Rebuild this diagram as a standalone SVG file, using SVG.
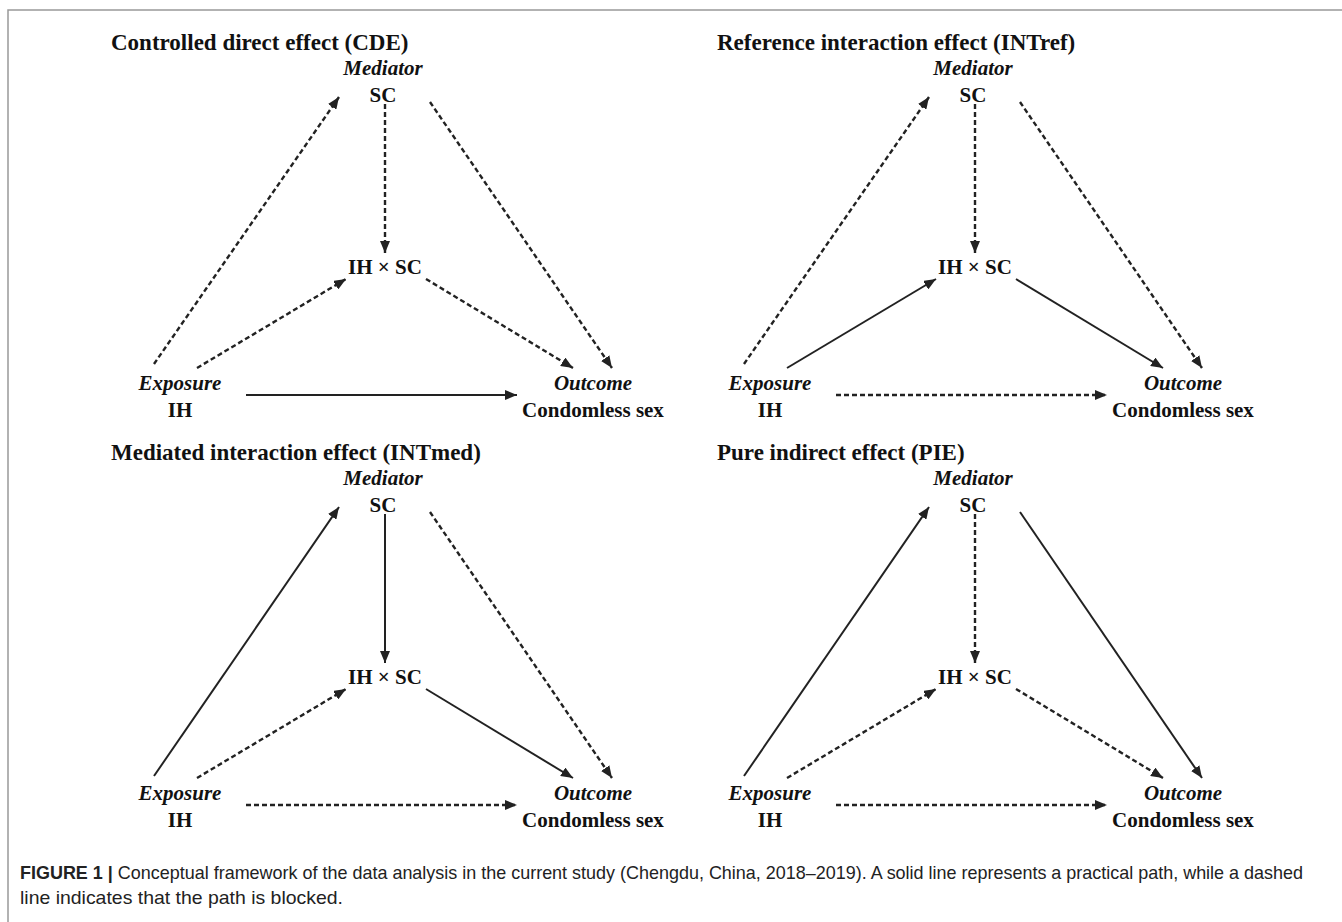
<svg xmlns="http://www.w3.org/2000/svg" width="1342" height="922" viewBox="0 0 1342 922">
<style>
.title{font-family:"Liberation Serif","Times New Roman",serif;font-weight:bold;font-size:23px;fill:#111}
.role{font-family:"Liberation Serif","Times New Roman",serif;font-weight:bold;font-style:italic;font-size:21px;fill:#111;text-anchor:middle}
.var{font-family:"Liberation Serif","Times New Roman",serif;font-weight:bold;font-size:21px;fill:#111;text-anchor:middle}
.solid{stroke:#222;stroke-width:2;fill:none;marker-end:url(#ah)}
.dash{stroke:#222;stroke-width:2.4;fill:none;stroke-dasharray:5 3;marker-end:url(#ah)}
.cap{font-family:"Liberation Sans",Arial,sans-serif;font-size:18.5px;fill:#222}
.frame{stroke:#999;stroke-width:1.5;fill:none}
</style>
<defs>
<marker id="ah" markerUnits="userSpaceOnUse" markerWidth="13" markerHeight="10" refX="12" refY="5" orient="auto">
<path d="M0,0 L12,5 L0,10 Z" fill="#222"/>
</marker>
</defs>
<rect width="1342" height="922" fill="#fff"/>
<path class="frame" d="M8,922 V10 H1342"/>

<g id="connectors">
<g id="c-cde">
<line class="dash" x1="154" y1="364" x2="339" y2="97"/>
<line class="dash" x1="385" y1="104" x2="385" y2="253"/>
<line class="dash" x1="197" y1="368" x2="346" y2="279"/>
<line class="dash" x1="426" y1="279" x2="573" y2="368"/>
<line class="dash" x1="430" y1="102" x2="612" y2="368"/>
<line class="solid" x1="246" y1="395" x2="517" y2="395"/>
</g>
<g id="c-intref" transform="translate(590,0)">
<line class="dash" x1="154" y1="364" x2="339" y2="97"/>
<line class="dash" x1="385" y1="104" x2="385" y2="253"/>
<line class="solid" x1="197" y1="368" x2="346" y2="279"/>
<line class="solid" x1="426" y1="279" x2="573" y2="368"/>
<line class="dash" x1="430" y1="102" x2="612" y2="368"/>
<line class="dash" x1="246" y1="395" x2="517" y2="395"/>
</g>
<g id="c-intmed" transform="translate(0,410)">
<line class="solid" x1="154" y1="366" x2="339" y2="97"/>
<line class="solid" x1="385" y1="104" x2="385" y2="253"/>
<line class="dash" x1="197" y1="368" x2="346" y2="279"/>
<line class="solid" x1="426" y1="279" x2="573" y2="368"/>
<line class="dash" x1="430" y1="102" x2="612" y2="368"/>
<line class="dash" x1="246" y1="395" x2="517" y2="395"/>
</g>
<g id="c-pie" transform="translate(590,410)">
<line class="solid" x1="154" y1="366" x2="339" y2="97"/>
<line class="dash" x1="385" y1="104" x2="385" y2="253"/>
<line class="dash" x1="197" y1="368" x2="346" y2="279"/>
<line class="dash" x1="426" y1="279" x2="573" y2="368"/>
<line class="solid" x1="430" y1="102" x2="612" y2="368"/>
<line class="dash" x1="246" y1="395" x2="517" y2="395"/>
</g>
</g>

<g id="panel-cde">
<text class="title" x="111" y="50">Controlled direct effect (CDE)</text>
<g id="cde-mediator"><text class="role" x="383" y="75">Mediator</text><text class="var" x="383" y="102">SC</text></g>
<g id="cde-interaction"><text class="var" x="385" y="274">IH × SC</text></g>
<g id="cde-exposure"><text class="role" x="180" y="390">Exposure</text><text class="var" x="180" y="417">IH</text></g>
<g id="cde-outcome"><text class="role" x="593" y="390">Outcome</text><text class="var" x="593" y="417">Condomless sex</text></g>
</g>

<g id="panel-intref" transform="translate(590,0)">
<text class="title" x="127" y="50">Reference interaction effect (INTref)</text>
<g id="intref-mediator"><text class="role" x="383" y="75">Mediator</text><text class="var" x="383" y="102">SC</text></g>
<g id="intref-interaction"><text class="var" x="385" y="274">IH × SC</text></g>
<g id="intref-exposure"><text class="role" x="180" y="390">Exposure</text><text class="var" x="180" y="417">IH</text></g>
<g id="intref-outcome"><text class="role" x="593" y="390">Outcome</text><text class="var" x="593" y="417">Condomless sex</text></g>
</g>

<g id="panel-intmed" transform="translate(0,410)">
<text class="title" x="111" y="50">Mediated interaction effect (INTmed)</text>
<g id="intmed-mediator"><text class="role" x="383" y="75">Mediator</text><text class="var" x="383" y="102">SC</text></g>
<g id="intmed-interaction"><text class="var" x="385" y="274">IH × SC</text></g>
<g id="intmed-exposure"><text class="role" x="180" y="390">Exposure</text><text class="var" x="180" y="417">IH</text></g>
<g id="intmed-outcome"><text class="role" x="593" y="390">Outcome</text><text class="var" x="593" y="417">Condomless sex</text></g>
</g>

<g id="panel-pie" transform="translate(590,410)">
<text class="title" x="127" y="50">Pure indirect effect (PIE)</text>
<g id="pie-mediator"><text class="role" x="383" y="75">Mediator</text><text class="var" x="383" y="102">SC</text></g>
<g id="pie-interaction"><text class="var" x="385" y="274">IH × SC</text></g>
<g id="pie-exposure"><text class="role" x="180" y="390">Exposure</text><text class="var" x="180" y="417">IH</text></g>
<g id="pie-outcome"><text class="role" x="593" y="390">Outcome</text><text class="var" x="593" y="417">Condomless sex</text></g>
</g>

<g id="caption">
<text class="cap" x="20" y="879" textLength="1283" lengthAdjust="spacingAndGlyphs"><tspan font-weight="bold">FIGURE 1 |</tspan> Conceptual framework of the data analysis in the current study (Chengdu, China, 2018–2019). A solid line represents a practical path, while a dashed</text>
<text class="cap" x="20" y="904" textLength="323" lengthAdjust="spacingAndGlyphs">line indicates that the path is blocked.</text>
</g>
</svg>
